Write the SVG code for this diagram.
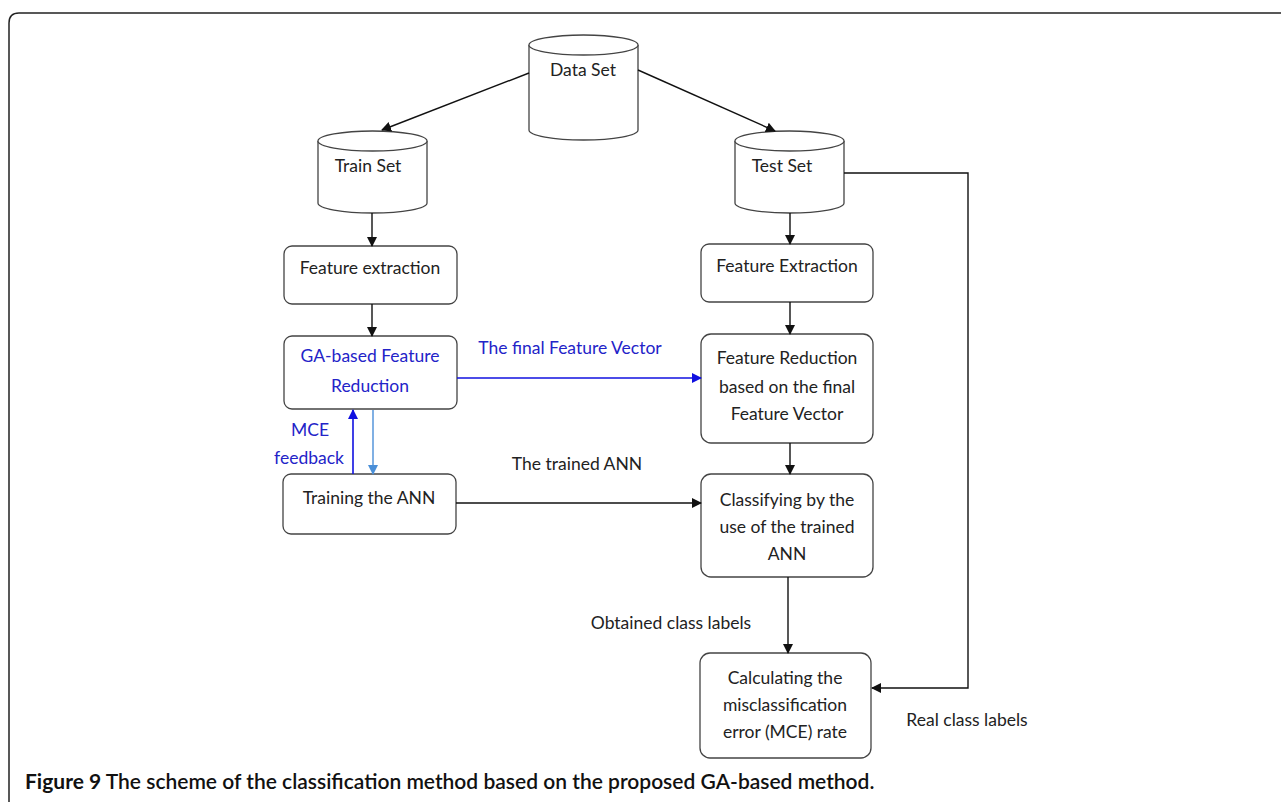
<svg xmlns="http://www.w3.org/2000/svg" width="1281" height="802" viewBox="0 0 1281 802">
<style>
.box{fill:#fff;stroke:#444;stroke-width:1.3}
.t{font-family:Lato,"Liberation Sans",sans-serif;font-size:17.5px;fill:#222;text-anchor:middle}
.b{fill:#2323c8}
.c{stroke:#111;stroke-width:1.4;fill:none}
.cap{font-family:Lato,"Liberation Sans",sans-serif;font-size:21px;fill:#111}
</style>
<defs>
<marker id="ah" markerWidth="10" markerHeight="10" refX="9" refY="5" orient="auto" markerUnits="userSpaceOnUse"><path d="M0,0 L10,5 L0,10 Z" fill="#111"/></marker>
<marker id="ahb" markerWidth="10" markerHeight="10" refX="9" refY="5" orient="auto" markerUnits="userSpaceOnUse"><path d="M0,0 L10,5 L0,10 Z" fill="#1010e0"/></marker>
<marker id="ahl" markerWidth="10" markerHeight="10" refX="9" refY="5" orient="auto" markerUnits="userSpaceOnUse"><path d="M0,0 L10,5 L0,10 Z" fill="#4a8fd8"/></marker>
</defs>
<rect width="1281" height="802" fill="#fff"/>
<path d="M9,812 L9,23 Q9,13 19,13 L1290,13" fill="none" stroke="#222" stroke-width="1.5"/>

<g id="dataset">
<path class="box" d="M529,45 L529,130 A54.5,10 0 0 0 638,130 L638,45"/>
<ellipse class="box" cx="583.5" cy="45" rx="54.5" ry="10"/>
<text class="t" x="583" y="76">Data Set</text>
</g>
<g id="trainset">
<path class="box" d="M318,141 L318,203 A54.5,10 0 0 0 427,203 L427,141"/>
<ellipse class="box" cx="372.5" cy="141" rx="54.5" ry="10"/>
<text class="t" x="368" y="172">Train Set</text>
</g>
<g id="testset">
<path class="box" d="M735,141 L735,203 A54.5,10 0 0 0 844,203 L844,141"/>
<ellipse class="box" cx="789.5" cy="141" rx="54.5" ry="10"/>
<text class="t" x="782" y="172">Test Set</text>
</g>
<g id="fe1">
<rect class="box" x="284" y="246" width="173" height="58" rx="8"/>
<text class="t" x="370" y="274">Feature extraction</text>
</g>
<g id="fe2">
<rect class="box" x="701" y="244" width="172" height="58" rx="8"/>
<text class="t" x="787" y="272">Feature Extraction</text>
</g>
<g id="ga">
<rect class="box" x="284" y="336" width="173" height="73" rx="8"/>
<text class="t b" x="370" y="362">GA-based Feature</text>
<text class="t b" x="370" y="392">Reduction</text>
</g>
<g id="fr">
<rect class="box" x="701" y="334" width="172" height="109" rx="10"/>
<text class="t" x="787" y="364">Feature Reduction</text>
<text class="t" x="787" y="393">based on the final</text>
<text class="t" x="787" y="420">Feature Vector</text>
</g>
<g id="train">
<rect class="box" x="283" y="474" width="173" height="60" rx="8"/>
<text class="t" x="369" y="504">Training the ANN</text>
</g>
<g id="classify">
<rect class="box" x="701" y="474" width="172" height="103" rx="10"/>
<text class="t" x="787" y="506">Classifying by the</text>
<text class="t" x="787" y="533">use of the trained</text>
<text class="t" x="787" y="560">ANN</text>
</g>
<g id="calc">
<rect class="box" x="700" y="653" width="171" height="105" rx="10"/>
<text class="t" x="785" y="684">Calculating the</text>
<text class="t" x="785" y="711">misclassification</text>
<text class="t" x="785" y="738">error (MCE) rate</text>
</g>

<g id="connectors">
<line class="c" x1="529" y1="73" x2="382" y2="130" marker-end="url(#ah)"/>
<line class="c" x1="638" y1="70" x2="775" y2="131" marker-end="url(#ah)"/>
<line class="c" x1="372" y1="213" x2="372" y2="246" marker-end="url(#ah)"/>
<line class="c" x1="372" y1="304" x2="372" y2="336" marker-end="url(#ah)"/>
<line class="c" x1="790" y1="213" x2="790" y2="244" marker-end="url(#ah)"/>
<line class="c" x1="790" y1="302" x2="790" y2="334" marker-end="url(#ah)"/>
<line x1="457" y1="378" x2="701" y2="378" stroke="#1010e0" stroke-width="1.4" marker-end="url(#ahb)"/>
<line x1="353" y1="474" x2="353" y2="410" stroke="#1010e0" stroke-width="1.6" marker-end="url(#ahb)"/>
<line x1="373" y1="410" x2="373" y2="474" stroke="#4a8fd8" stroke-width="1.4" marker-end="url(#ahl)"/>
<line class="c" x1="456" y1="503" x2="701" y2="503" marker-end="url(#ah)"/>
<line class="c" x1="790" y1="443" x2="790" y2="474" marker-end="url(#ah)"/>
<line class="c" x1="788" y1="577" x2="788" y2="653" marker-end="url(#ah)"/>
<polyline class="c" points="844,173 968,173 968,688 872,688" marker-end="url(#ah)"/>
<text class="t b" x="570" y="354">The final Feature Vector</text>
<text class="t b" x="310" y="436">MCE</text>
<text class="t b" x="309" y="464">feedback</text>
<text class="t" x="577" y="470">The trained ANN</text>
<text class="t" x="671" y="629">Obtained class labels</text>
<text class="t" x="967" y="726">Real class labels</text>
</g>
<text class="cap" x="25" y="789"><tspan font-weight="bold">Figure 9</tspan><tspan font-weight="600"> The scheme of the classification method based on the proposed GA-based method.</tspan></text>
</svg>
